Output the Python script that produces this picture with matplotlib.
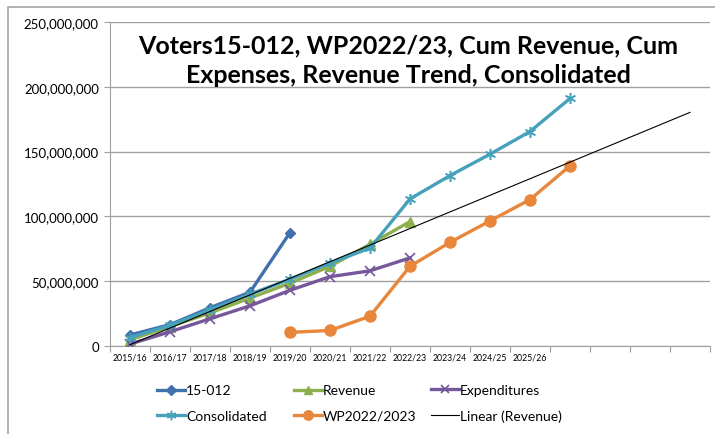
import matplotlib.pyplot as plt
import matplotlib.patches as patches
import numpy as np

plt.rcParams['font.family'] = ['Lato', 'DejaVu Sans']

# categories (15 slots on the axis, only 11 have labels)
years = ['2015/16', '2016/17', '2017/18', '2018/19', '2019/20', '2020/21', '2021/22',
         '2022/23', '2023/24', '2024/25', '2025/26', '', '', '', '']

# series values
s15_012 = [8.5e6, 16.5e6, 29.5e6, 41.5e6, 87.5e6]
revenue = [4.8e6, 15e6, 25.5e6, 37e6, 48.5e6, 61.5e6, 78.5e6, 96e6]
expenditures = [1.5e6, 11e6, 21e6, 31e6, 43e6, 53.5e6, 58e6, 68e6]
consolidated = [6.5e6, 16e6, 28e6, 40e6, 51.5e6, 64e6, 75.5e6, 113.5e6, 131.5e6, 148e6, 165.5e6, 191e6]
wp_start = 4
wp2022 = [10.5e6, 12e6, 23e6, 61.5e6, 80e6, 96.5e6, 113e6, 139e6]

blue = '#4170ae'
green = '#8db04c'
purple = '#75589b'
cyan = '#46a1bb'
orange = '#e8873c'

fig = plt.figure(figsize=(7.15, 4.35), dpi=100)
ax = fig.add_axes([110/715, 1-347/435, 600/715, 324/435])

# outer chart border
fig.patches.append(patches.Rectangle((8/715, -0.05), 1.0, 1-8/435+0.05, transform=fig.transFigure,
                                     fill=False, edgecolor='#a6a6a6', linewidth=1.2))

x = np.arange(len(years))
lw = 2.4
ax.plot(x[:len(s15_012)], s15_012, color=blue, lw=lw, marker='D', ms=5.5, label='15-012', zorder=3)
ax.plot(x[:len(revenue)], revenue, color=green, lw=lw, marker='^', ms=7, label='Revenue', zorder=3)
ax.plot(x[:len(expenditures)], expenditures, color=purple, lw=lw, marker='x', ms=7, mew=1.2,
        label='Expenditures', zorder=3)
ax.plot(x[:len(consolidated)], consolidated, color=cyan, lw=lw, marker=(6, 2, 0), ms=8, mew=1.1,
        label='Consolidated', zorder=3)
ax.plot(x[wp_start:wp_start+len(wp2022)], wp2022, color=orange, lw=lw, marker='o', ms=8,
        label='WP2022/2023', zorder=3)

# linear trend of revenue, projected over all 15 slots
coef = np.polyfit(x[:len(revenue)], revenue, 1)
ax.plot(x, np.polyval(coef, x), color='black', lw=0.8, label='Linear (Revenue)', zorder=4)

ax.set_xlim(-0.5, 14.5)
ax.set_ylim(0, 250e6)
ax.set_yticks(np.arange(0, 250e6+1, 50e6))
ax.set_yticklabels(['{:,.0f}'.format(v) for v in np.arange(0, 250e6+1, 50e6)], fontsize=9.5)
ax.yaxis.grid(True, color='#a0a0a0', lw=1)
ax.set_axisbelow(True)

ax.set_xticks(np.arange(-0.5, 15, 1))
ax.set_xticklabels([])
ax.set_xticks(x, minor=True)
ax.set_xticklabels(years, minor=True, fontsize=6.3)
ax.tick_params(axis='x', which='major', direction='out', length=4, color='#a0a0a0')
ax.tick_params(axis='x', which='minor', length=0, pad=5)
ax.tick_params(axis='y', direction='out', length=4, color='#a0a0a0', pad=4)

for side in ['top', 'right']:
    ax.spines[side].set_visible(False)
for side in ['left', 'bottom']:
    ax.spines[side].set_color('#a0a0a0')

ax.text(0.497, 0.883, 'Voters15-012, WP2022/23, Cum Revenue, Cum\nExpenses, Revenue Trend, Consolidated',
        transform=ax.transAxes, ha='center', va='center', fontsize=18, fontweight='bold',
        linespacing=1.35, zorder=5)

# legend: three columns of two entries each
h, l = ax.get_legend_handles_labels()
cols = [[0, 3], [1, 4], [2, 5]]
col_x = [157, 294, 431]
for idx, cx in zip(cols, col_x):
    leg = fig.legend([h[i] for i in idx], [l[i] for i in idx], frameon=False,
                     loc='center left', bbox_to_anchor=(cx/715, 1-404/435), fontsize=10,
                     handlelength=2.0, handletextpad=0.1, numpoints=1, labelspacing=0.95,
                     borderpad=0, borderaxespad=0, markerscale=0.85)

fig.savefig('out.png', dpi=100)
